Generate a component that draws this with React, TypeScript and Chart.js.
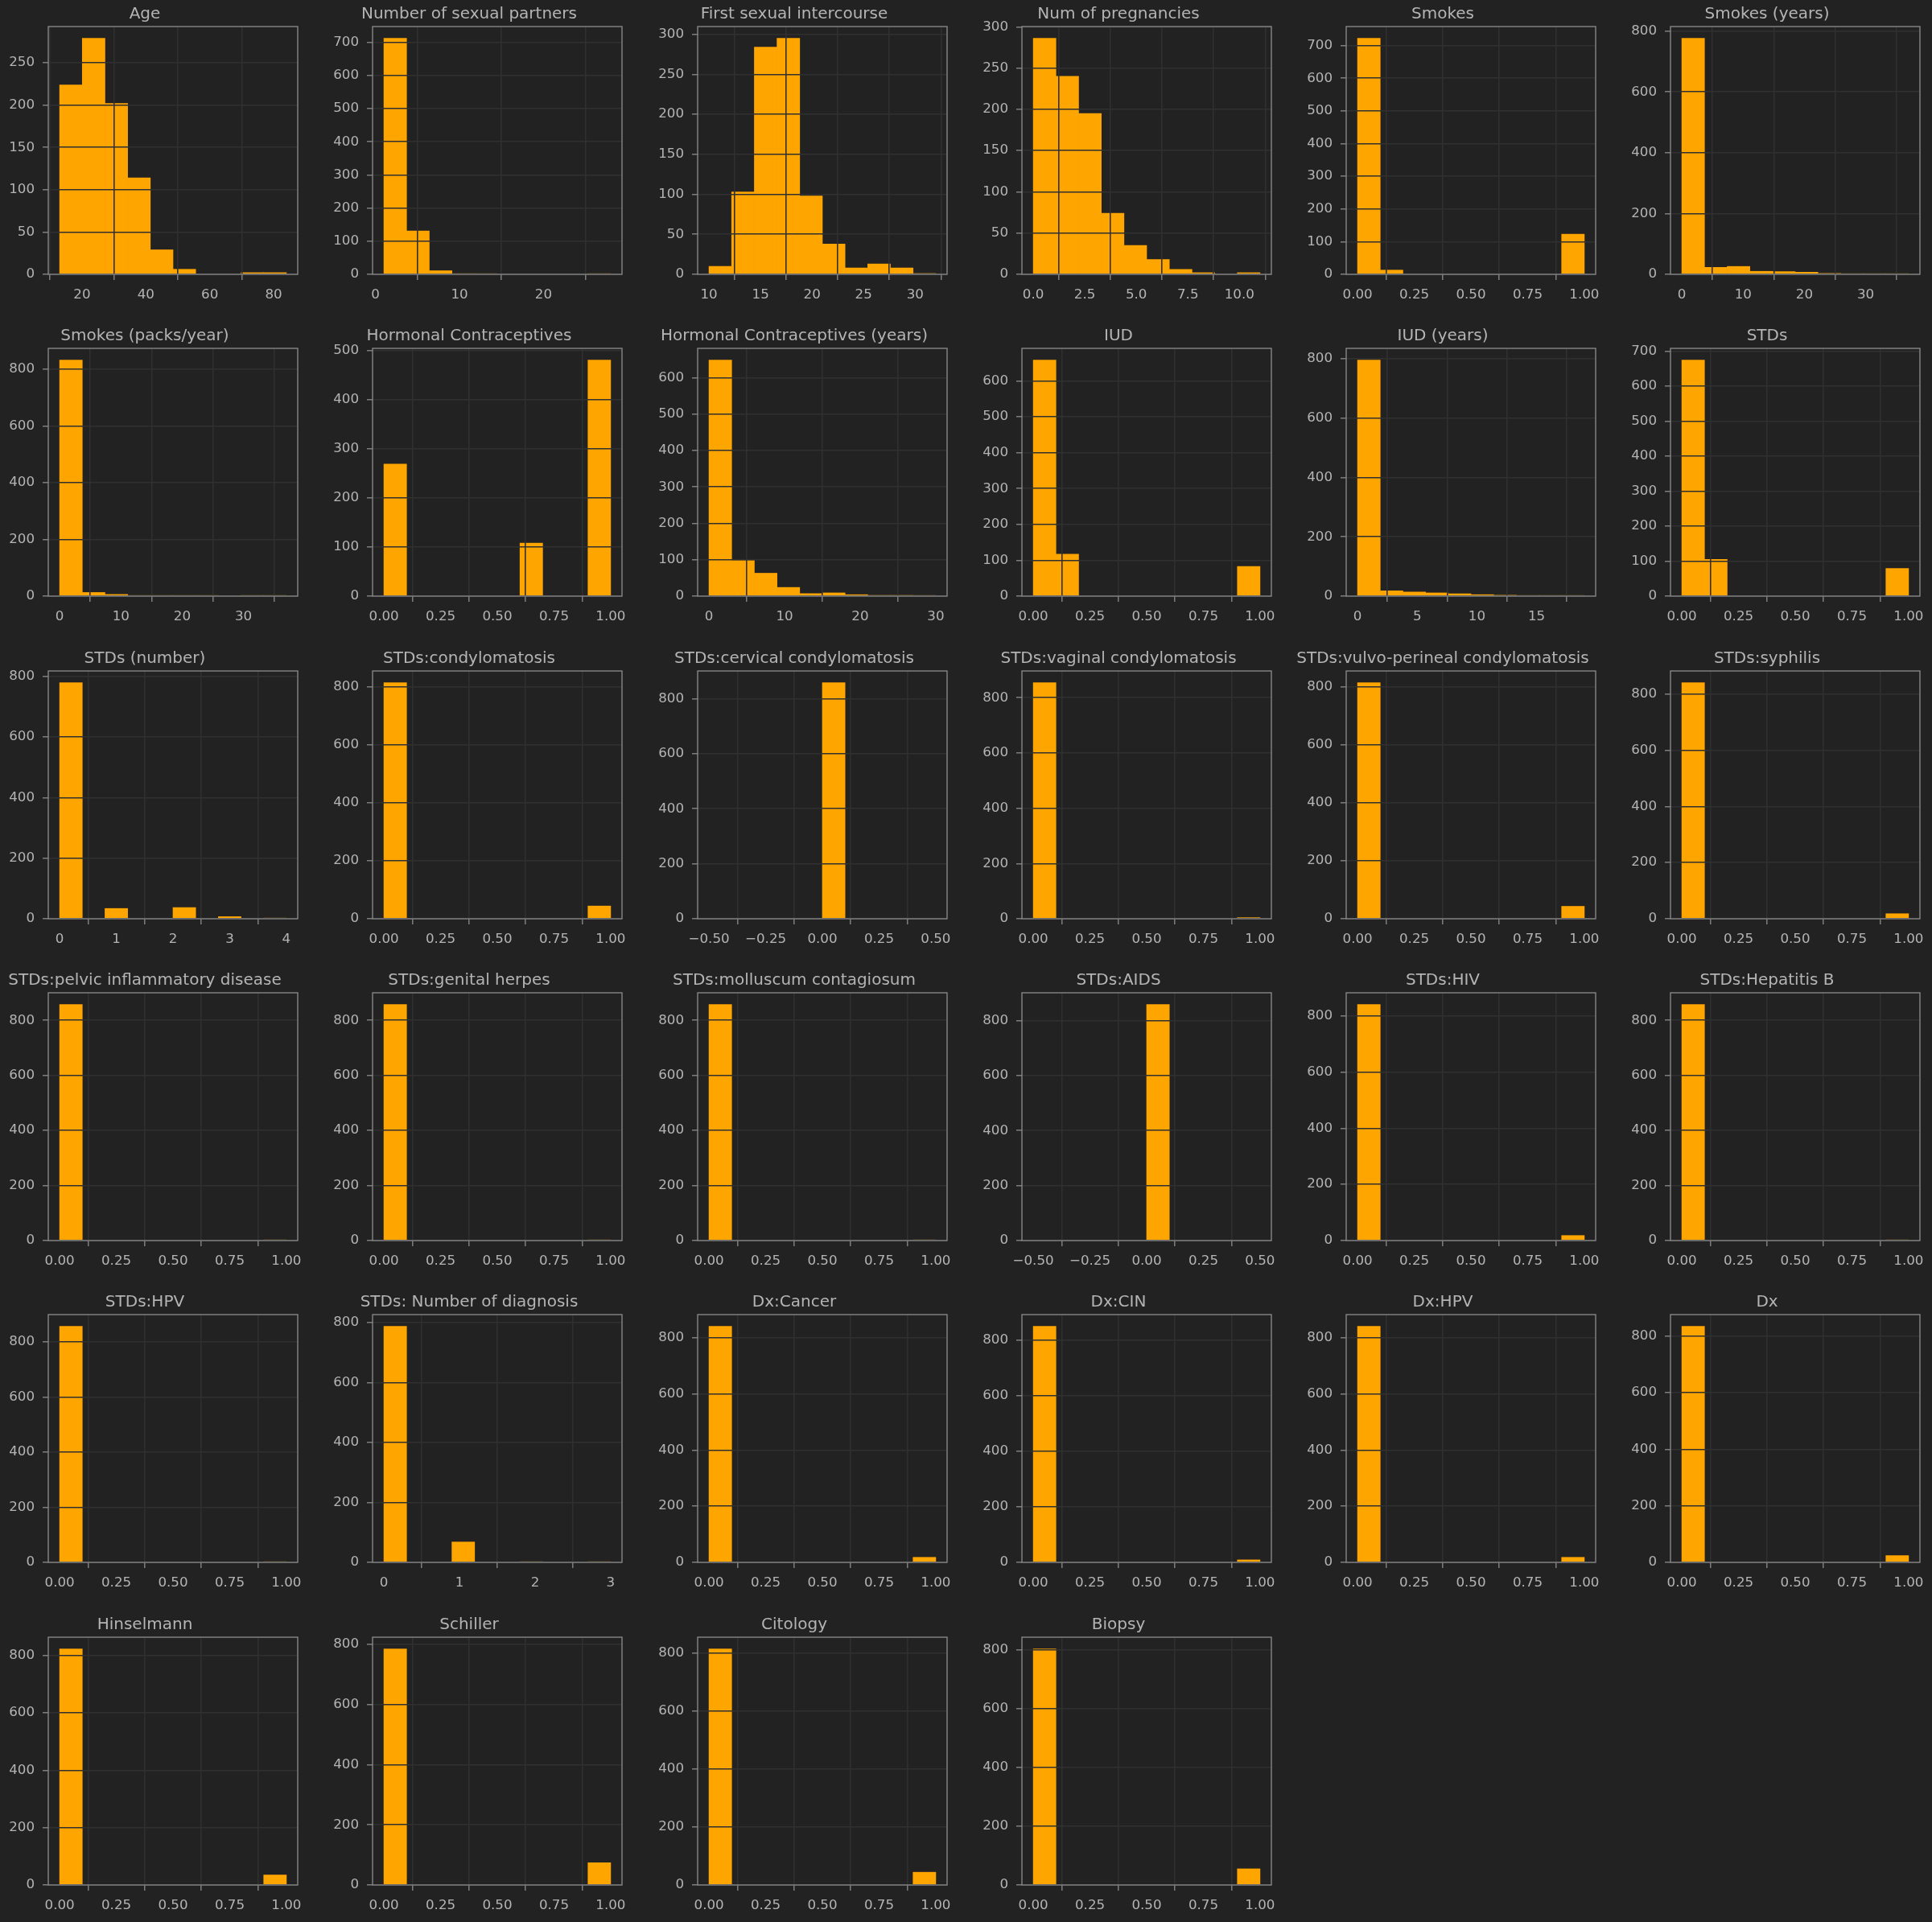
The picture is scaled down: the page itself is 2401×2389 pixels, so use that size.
import React, { useEffect, useRef } from "react";
import { Chart, registerables } from "chart.js";

Chart.register(...registerables);

// ---------------- data ----------------
const titles: string[] = [
  "Age", "Number of sexual partners", "First sexual intercourse", "Num of pregnancies", "Smokes", "Smokes (years)",
  "Smokes (packs/year)", "Hormonal Contraceptives", "Hormonal Contraceptives (years)", "IUD", "IUD (years)", "STDs",
  "STDs (number)", "STDs:condylomatosis", "STDs:cervical condylomatosis", "STDs:vaginal condylomatosis", "STDs:vulvo-perineal condylomatosis", "STDs:syphilis",
  "STDs:pelvic inflammatory disease", "STDs:genital herpes", "STDs:molluscum contagiosum", "STDs:AIDS", "STDs:HIV", "STDs:Hepatitis B",
  "STDs:HPV", "STDs: Number of diagnosis", "Dx:Cancer", "Dx:CIN", "Dx:HPV", "Dx",
  "Hinselmann", "Schiller", "Citology", "Biopsy",
];

// histogram range (10 equal bins between low and high)
const binLow: number[] = [
  13, 1, 10, 0, 0, 0,
  0, 0, 0, 0, 0, 0,
  0, 0, -0.5, 0, 0, 0,
  0, 0, 0, -0.5, 0, 0,
  0, 0, 0, 0, 0, 0,
  0, 0, 0, 0,
];
const binHigh: number[] = [
  84, 28, 32, 11, 1, 37,
  37, 1, 30, 1, 19, 1,
  4, 1, 0.5, 1, 1, 1,
  1, 1, 1, 0.5, 1, 1,
  1, 3, 1, 1, 1, 1,
  1, 1, 1, 1,
];

const counts: number[][] = [
  [224, 279, 202, 114, 29, 6, 0, 0, 2, 2],
  [712, 131, 11, 2, 1, 0, 0, 0, 0, 1],
  [10, 103, 284, 295, 98, 38, 8, 13, 8, 1],
  [286, 240, 195, 74, 35, 18, 6, 2, 0, 2],
  [722, 13, 0, 0, 0, 0, 0, 0, 0, 123],
  [776, 23, 26, 10, 9, 7, 3, 2, 1, 1],
  [832, 13, 6, 2, 1, 1, 1, 0, 1, 1],
  [269, 0, 0, 0, 0, 0, 108, 0, 0, 481],
  [648, 98, 63, 24, 7, 9, 4, 2, 2, 1],
  [658, 117, 0, 0, 0, 0, 0, 0, 0, 83],
  [795, 18, 14, 11, 8, 5, 3, 2, 1, 1],
  [674, 105, 0, 0, 0, 0, 0, 0, 0, 79],
  [779, 0, 34, 0, 0, 37, 0, 7, 0, 1],
  [814, 0, 0, 0, 0, 0, 0, 0, 0, 44],
  [0, 0, 0, 0, 0, 858, 0, 0, 0, 0],
  [854, 0, 0, 0, 0, 0, 0, 0, 0, 4],
  [815, 0, 0, 0, 0, 0, 0, 0, 0, 43],
  [840, 0, 0, 0, 0, 0, 0, 0, 0, 18],
  [857, 0, 0, 0, 0, 0, 0, 0, 0, 1],
  [857, 0, 0, 0, 0, 0, 0, 0, 0, 1],
  [857, 0, 0, 0, 0, 0, 0, 0, 0, 1],
  [0, 0, 0, 0, 0, 858, 0, 0, 0, 0],
  [840, 0, 0, 0, 0, 0, 0, 0, 0, 18],
  [857, 0, 0, 0, 0, 0, 0, 0, 0, 1],
  [856, 0, 0, 0, 0, 0, 0, 0, 0, 2],
  [787, 0, 0, 68, 0, 0, 2, 0, 0, 1],
  [840, 0, 0, 0, 0, 0, 0, 0, 0, 18],
  [849, 0, 0, 0, 0, 0, 0, 0, 0, 9],
  [840, 0, 0, 0, 0, 0, 0, 0, 0, 18],
  [834, 0, 0, 0, 0, 0, 0, 0, 0, 24],
  [823, 0, 0, 0, 0, 0, 0, 0, 0, 35],
  [784, 0, 0, 0, 0, 0, 0, 0, 0, 74],
  [814, 0, 0, 0, 0, 0, 0, 0, 0, 44],
  [803, 0, 0, 0, 0, 0, 0, 0, 0, 55],
];

const BIN_TICKS = ["0.00", "0.25", "0.50", "0.75", "1.00"];
const ZERO_TICKS = ["−0.50", "−0.25", "0.00", "0.25", "0.50"];
const xTickLabels: string[][] = [
  ["20", "40", "60", "80"],
  ["0", "10", "20"],
  ["10", "15", "20", "25", "30"],
  ["0.0", "2.5", "5.0", "7.5", "10.0"],
  BIN_TICKS,
  ["0", "10", "20", "30"],
  ["0", "10", "20", "30"],
  BIN_TICKS,
  ["0", "10", "20", "30"],
  BIN_TICKS,
  ["0", "5", "10", "15"],
  BIN_TICKS,
  ["0", "1", "2", "3", "4"],
  BIN_TICKS,
  ZERO_TICKS,
  BIN_TICKS,
  BIN_TICKS,
  BIN_TICKS,
  BIN_TICKS,
  BIN_TICKS,
  BIN_TICKS,
  ZERO_TICKS,
  BIN_TICKS,
  BIN_TICKS,
  BIN_TICKS,
  ["0", "1", "2", "3"],
  BIN_TICKS,
  BIN_TICKS,
  BIN_TICKS,
  BIN_TICKS,
  BIN_TICKS,
  BIN_TICKS,
  BIN_TICKS,
  BIN_TICKS,
];

const yTickStep: number[] = [
  50, 100, 50, 50, 100, 200,
  200, 100, 100, 100, 200, 100,
  200, 200, 200, 200, 200, 200,
  200, 200, 200, 200, 200, 200,
  200, 200, 200, 200, 200, 200,
  200, 200, 200, 200,
];

// ---------------- style / layout ----------------
const BG = "#222222";
const BAR = "#FFA500";
const GRID = "#303030";
const SPINE = "#8a8a8a";
const TEXT = "#b4b4b4";
const FONT = "'DejaVu Sans', sans-serif";
const LW = 1.35;
const GRID_LW = 1.6;

const COL_LEFT = [60, 463, 867, 1270, 1673, 2076];
const ROW_TOP = [33, 433, 834, 1234, 1634, 2035];
const AX_W = 310;
const AX_H = 308;
const Y_AXIS_W = 70;
const RIGHT_PAD = 70;
const TITLE_H = 33;
const X_AXIS_H = 48;
const CANVAS_W = Y_AXIS_W + AX_W + RIGHT_PAD;
const CANVAS_H = TITLE_H + AX_H + X_AXIS_H;

const framePlugin = {
  id: "frame",
  afterDraw(chart: any) {
    const { ctx, chartArea: a } = chart;
    ctx.save();
    ctx.strokeStyle = SPINE;
    ctx.lineWidth = LW;
    ctx.strokeRect(a.left, a.top, a.right - a.left, a.bottom - a.top);
    ctx.restore();
  },
};

function Hist({ idx }: { idx: number }) {
  const ref = useRef<HTMLCanvasElement>(null);
  useEffect(() => {
    const lo = binLow[idx];
    const hi = binHigh[idx];
    const c = counts[idx];
    const w = (hi - lo) / c.length;
    const pts = c.map((v, k) => ({ x: lo + w * (k + 0.5), y: v }));
    const span = hi - lo;
    const ymax = Math.max(...c) * 1.05;
    const xLabels = xTickLabels[idx];
    const xVals = xLabels.map((s) => parseFloat(s.replace("−", "-")));
    const yVals: number[] = [];
    for (let v = 0; v <= ymax; v += yTickStep[idx]) yVals.push(v);

    const gridOpts = {
      color: GRID,
      lineWidth: GRID_LW,
      tickColor: SPINE,
      tickLength: 7,
      tickWidth: LW,
      drawTicks: true,
      z: 1,
    };

    const chart = new Chart(ref.current as HTMLCanvasElement, {
      type: "bar",
      data: {
        datasets: [
          {
            data: pts as any,
            backgroundColor: BAR,
            borderWidth: 0,
            barPercentage: 1,
            categoryPercentage: 1,
          },
        ],
      },
      options: {
        responsive: false,
        animation: false,
        devicePixelRatio: 1,
        layout: { padding: { left: 0, right: RIGHT_PAD, top: 0, bottom: 0 } },
        plugins: {
          legend: { display: false },
          tooltip: { enabled: false },
          title: {
            display: true,
            text: titles[idx],
            color: TEXT,
            font: { family: FONT, size: 20, weight: "normal", lineHeight: 1 },
            padding: { top: 8, bottom: 5 },
            fullSize: true,
          },
        },
        scales: {
          x: {
            type: "linear",
            min: lo - 0.05 * span,
            max: hi + 0.05 * span,
            offset: false,
            afterBuildTicks: (s: any) => {
              s.ticks = xVals.map((v) => ({ value: v }));
            },
            afterFit: (s: any) => {
              s.height = X_AXIS_H;
            },
            ticks: {
              autoSkip: false,
              maxRotation: 0,
              minRotation: 0,
              padding: 9,
              color: TEXT,
              font: { family: FONT, size: 16.7 },
              callback: (_v: any, k: number) => xLabels[k],
            },
            grid: gridOpts,
            border: { display: false },
          } as any,
          y: {
            type: "linear",
            min: 0,
            max: ymax,
            afterBuildTicks: (s: any) => {
              s.ticks = yVals.map((v) => ({ value: v }));
            },
            afterFit: (s: any) => {
              s.width = Y_AXIS_W;
            },
            ticks: {
              padding: 10,
              color: TEXT,
              font: { family: FONT, size: 16.7 },
              callback: (v: any) => String(v),
            },
            grid: gridOpts,
            border: { display: false },
          } as any,
        },
      },
      plugins: [framePlugin],
    });
    return () => chart.destroy();
  }, [idx]);

  const col = idx % 6;
  const row = Math.floor(idx / 6);
  return (
    <div
      style={{
        position: "absolute",
        left: COL_LEFT[col] - Y_AXIS_W,
        top: ROW_TOP[row] - TITLE_H,
        width: CANVAS_W,
        height: CANVAS_H,
      }}
    >
      <canvas ref={ref} width={CANVAS_W} height={CANVAS_H} style={{ width: CANVAS_W, height: CANVAS_H, display: "block" }} />
    </div>
  );
}

export default function App() {
  useEffect(() => {
    document.body.style.background = BG;
    document.body.style.margin = "0";
  }, []);
  return (
    <div
      style={{
        position: "absolute",
        left: 0,
        top: 0,
        width: 2401,
        height: 2389,
        background: BG,
        overflow: "hidden",
      }}
    >
      {titles.map((_t, i) => (
        <Hist key={i} idx={i} />
      ))}
    </div>
  );
}
